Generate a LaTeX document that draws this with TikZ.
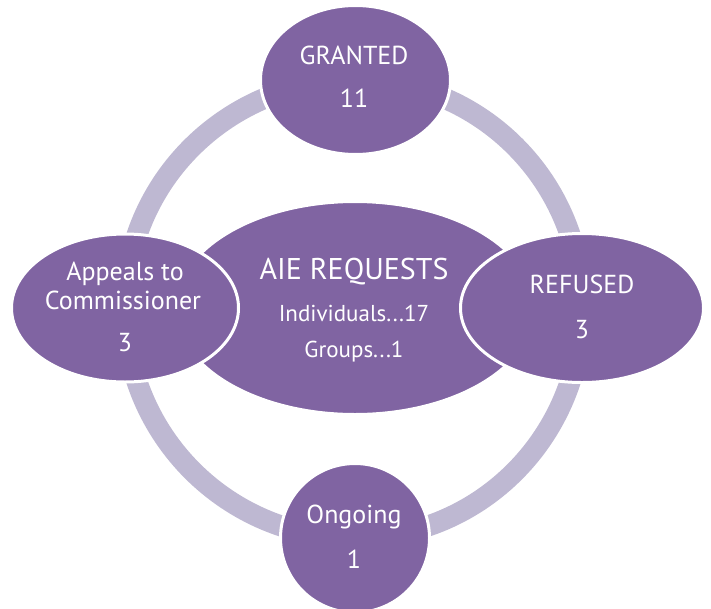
\documentclass[tikz,border=0pt]{standalone}
\usepackage{fontspec}
\setmainfont{PT Sans}
\usetikzlibrary{shapes.geometric,backgrounds}
\definecolor{pp}{HTML}{8064A2}
\definecolor{ringc}{RGB}{190,184,210}
\begin{document}
\begin{tikzpicture}[x=1pt,y=-1pt,
 blob/.style={ellipse, fill=pp, draw=white, line width=3pt, inner sep=0pt},
 txt/.style={text=white, anchor=base, inner sep=0pt, font=\fontsize{26}{30}\selectfont},
 big/.style={txt, font=\fontsize{30}{34}\selectfont},
 small/.style={txt, font=\fontsize{23}{27}\selectfont},
 ring/.style={draw=ringc, line width=21pt}]
\useasboundingbox (0,0) rectangle (711,608);
\node[blob, minimum width=359pt, minimum height=213pt] (c) at (355,308) {};
\node[blob, minimum width=227pt, minimum height=148pt] (a) at (125,308) {};
\node[blob, minimum width=243pt, minimum height=149pt] (r) at (582,308) {};
\node[blob, minimum width=190pt, minimum height=149pt] (g) at (355.5,80) {};
\node[blob, minimum width=149pt, minimum height=149pt] (o) at (355,538) {};
\begin{pgfonlayer}{background}
\draw[ring] (g.center) to[out=180,in=90] (a.center) to[out=-90,in=180] (o.center) to[out=0,in=-90] (r.center) to[out=90,in=0] (g.center);
\end{pgfonlayer}
\node[txt] (gt1) at (354,64) {GRANTED};
\node[txt] (gt2) at (354,107) {11};
\node[txt] (at1) at (125,280) {Appeals to};
\node[txt] (at2) at (123,309) {Commissioner};
\node[txt] (at3) at (125,351) {3};
\node[txt] (rt1) at (582,293) {REFUSED};
\node[txt] (rt2) at (582,338) {3};
\node[txt] (ot1) at (354,523) {Ongoing};
\node[txt] (ot2) at (354,568) {1};
\node[big] (ct1) at (354,279) {AIE REQUESTS};
\node[small] (ct2) at (354,321) {Individuals...17};
\node[small] (ct3) at (354,357) {Groups...1};
\end{tikzpicture}
\end{document}
